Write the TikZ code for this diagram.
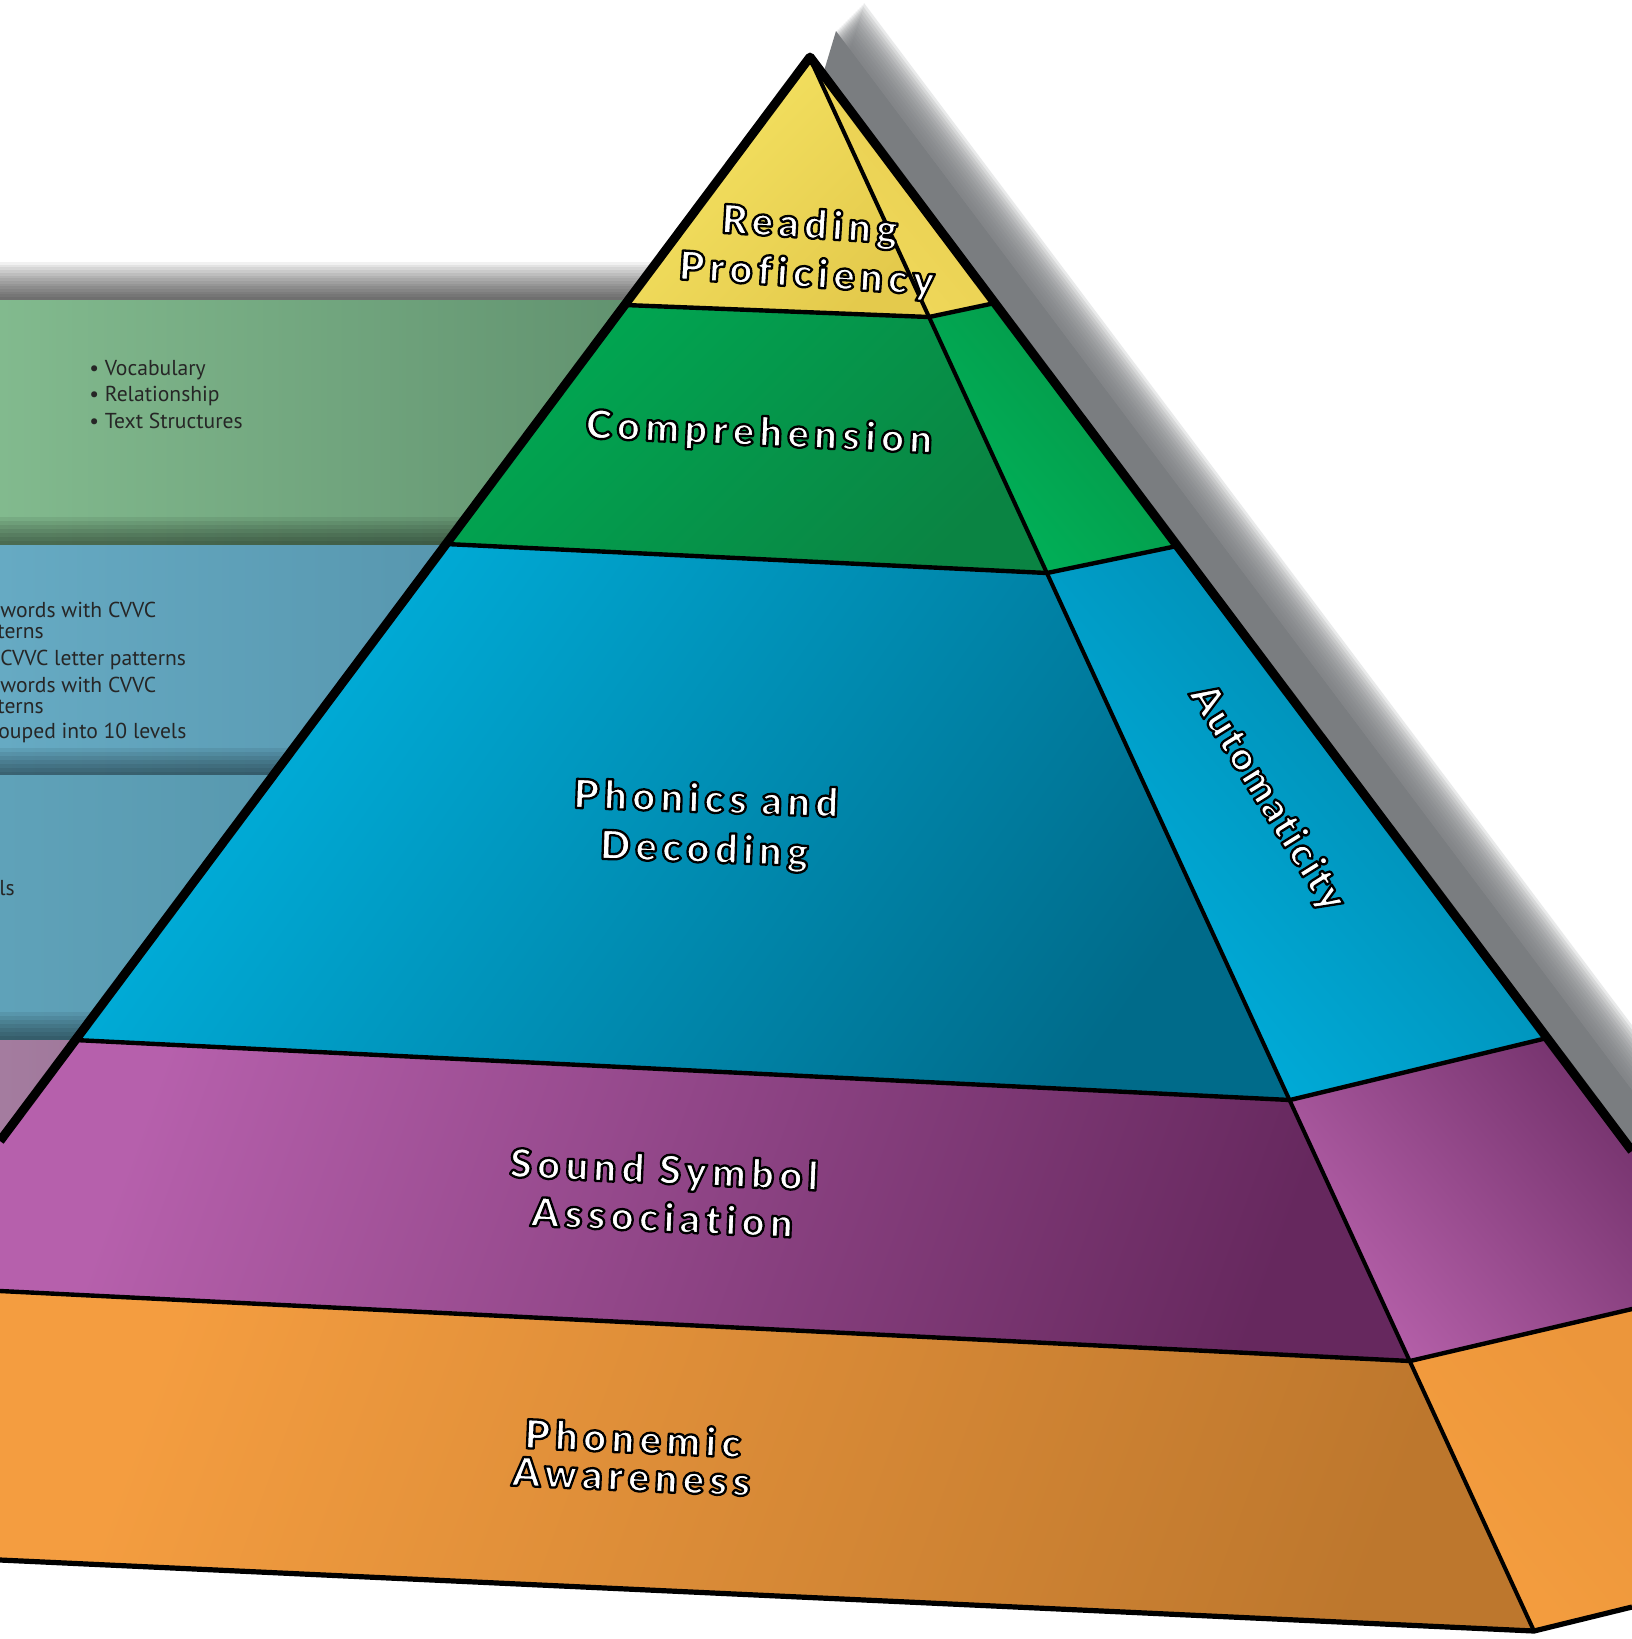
\documentclass[tikz,border=0pt]{standalone}
\usepackage{fontspec}
\IfFontExistsTF{Lato Black}{%
  \newfontfamily\labfontbase{Lato Black}[LetterSpace=13, Ligatures=NoCommon]
  \newfontfamily\autolabfontbase{Lato Black}[LetterSpace=5, Ligatures=NoCommon]
  \newcommand\labfont{\labfontbase}
  \newcommand\autolabfont{\autolabfontbase}
}{%
  \newfontfamily\labfontbase{Open Sans}[LetterSpace=9]
  \newfontfamily\autolabfontbase{Open Sans}
  \newcommand\labfont{\labfontbase\bfseries}
  \newcommand\autolabfont{\autolabfontbase\bfseries}
}
\newfontfamily\bodyfont{PT Sans}
\definecolor{pgreenL}{HTML}{82BA8E}
\definecolor{pgreenR}{HTML}{5E8E6C}
\definecolor{pblueAL}{HTML}{66AAC3}
\definecolor{pblueAR}{HTML}{4F8CA3}
\definecolor{pblueBL}{HTML}{5FA2B9}
\definecolor{pblueBR}{HTML}{4D8A9F}
\definecolor{pmauveL}{HTML}{A47C9F}
\definecolor{pmauveR}{HTML}{8F6B8C}
\definecolor{shadowgray}{HTML}{7A7D80}
\definecolor{textdark}{HTML}{262626}
\definecolor{yelFa}{HTML}{F6E463}
\definecolor{yelFb}{HTML}{E4CA4C}
\definecolor{yelRa}{HTML}{F1DA5C}
\definecolor{yelRb}{HTML}{E6CC4E}
\definecolor{grnFa}{HTML}{00A852}
\definecolor{grnFb}{HTML}{0A8443}
\definecolor{grnRa}{HTML}{00B35A}
\definecolor{grnRb}{HTML}{059546}
\definecolor{bluFa}{HTML}{00B2DF}
\definecolor{bluFb}{HTML}{006B8A}
\definecolor{bluRa}{HTML}{00B0DE}
\definecolor{bluRb}{HTML}{0085AA}
\definecolor{purFa}{HTML}{B660AC}
\definecolor{purFb}{HTML}{66285E}
\definecolor{purRa}{HTML}{B862AC}
\definecolor{purRb}{HTML}{783570}
\definecolor{orgFa}{HTML}{F49D40}
\definecolor{orgFb}{HTML}{BD772D}
\definecolor{orgRa}{HTML}{F59E3F}
\definecolor{orgRb}{HTML}{EC963B}
\newcommand{\olt}[1]{\special{pdf:literal direct 2 Tr 0 0 0 RG 1.15 w 1 j}#1\special{pdf:literal direct 0 Tr}}
\tikzset{
  lab/.style={text=white, align=center, inner sep=0pt, font=\labfont\fontsize{20}{#1}\selectfont},
  autolab/.style={text=white, inner sep=0pt, font=\autolabfont\fontsize{20}{24}\selectfont},
  body/.style={text=textdark, inner sep=0pt, anchor=base west, font=\bodyfont\fontsize{10.8}{13}\selectfont},
  bandline/.style={line width=2.2pt, line cap=round},
}
\begin{document}
\begin{tikzpicture}[x=0.5pt,y=-0.5pt,line join=round]
\useasboundingbox (0,0) rectangle (1632,1639);
\clip (0,0) rectangle (1632,1639);
\fill[white] (0,0) rectangle (1632,1639);

% shadow above the green panel
\foreach \i in {0,...,13} { \fill[black, opacity=0.055] (0,{262+2.7*\i}) rectangle (760,300); }

% side panels
\shade[left color=pgreenL, right color=pgreenR] (0,300) rectangle (700,545);
\foreach \i in {0,...,6} { \fill[black, opacity=0.07] (0,{517+4*\i}) rectangle (700,545); }
\shade[left color=pblueAL, right color=pblueAR] (0,545) rectangle (700,775);
\foreach \i in {0,...,6} { \fill[black, opacity=0.07] (0,{748+4*\i}) rectangle (700,775); }
\shade[left color=pblueBL, right color=pblueBR] (0,775) rectangle (700,1040);
\foreach \i in {0,...,6} { \fill[black, opacity=0.07] (0,{1012+4*\i}) rectangle (700,1040); }
\shade[left color=pmauveL, right color=pmauveR] (0,1040) rectangle (400,1200);

% panel texts
\node[body] (t1) at (89,375) {• Vocabulary};
\node[body] (t2) at (89,401) {• Relationship};
\node[body] (t3) at (89,428) {• Text Structures};
\node[body] (b1) at (0,617) {words with CVVC};
\node[body] (b2) at (-3,638) {terns};
\node[body] (b3) at (0,665) {CVVC letter patterns};
\node[body] (b4) at (0,692) {words with CVVC};
\node[body] (b5) at (-3,713) {terns};
\node[body] (b6) at (-2,738) {ouped into 10 levels};
\node[body] (b7) at (-1,895) {ls};

% pyramid shadow (soft)
\fill[shadowgray, shift={(26,-26)}] (810,57) -- (1632,1151) -- (1632,1300) -- (437,1300) -- cycle;
\foreach \d in {28,30,...,54} {
  \fill[shadowgray, opacity=0.16, shift={(\d,-\d)}] (810,57) -- (1632,1151) -- (1632,1300) -- (437,1300) -- cycle;
}

% faces
\shade[top color=yelFa, bottom color=yelFb, shading angle=45] (810,57) -- (625,305) -- (929,317) -- (813,65) -- cycle;
\shade[top color=yelRb, bottom color=yelRa, shading angle=-50] (810,57) -- (813,65) -- (929,317) -- (995,303) -- cycle;
\shade[top color=grnFa, bottom color=grnFb, shading angle=45] (625,305) -- (446,544) -- (1047,573) -- (929,317) -- cycle;
\shade[top color=grnRb, bottom color=grnRa, shading angle=-50] (929,317) -- (1047,573) -- (1177,546) -- (995,303) -- cycle;
\shade[top color=bluFa, bottom color=bluFb, shading angle=55] (446,544) -- (75,1040) -- (1290,1100) -- (1047,573) -- cycle;
\shade[top color=bluRb, bottom color=bluRa, shading angle=-50] (1047,573) -- (1290,1100) -- (1547,1038) -- (1177,546) -- cycle;
\shade[top color=purFa, bottom color=purFb, shading angle=70] (75,1040) -- (0,1141) -- (0,1291) -- (1410,1361) -- (1290,1100) -- cycle;
\shade[top color=purRb, bottom color=purRa, shading angle=-50] (1290,1100) -- (1547,1038) -- (1632,1151) -- (1632,1309) -- (1410,1361) -- cycle;
\shade[top color=orgFa, bottom color=orgFb, shading angle=70] (0,1291) -- (0,1560) -- (1534,1631) -- (1410,1361) -- cycle;
\shade[top color=orgRb, bottom color=orgRa, shading angle=-50] (1410,1361) -- (1632,1309) -- (1632,1607) -- (1534,1631) -- cycle;

% lines
\draw[bandline] (625,305) -- (929,317) -- (995,303);
\draw[bandline] (446,544) -- (1047,573) -- (1177,546);
\draw[bandline] (75,1040) -- (1290,1100) -- (1547,1038);
\draw[bandline] (0,1291) -- (1410,1361) -- (1632,1309);
\draw[line width=2pt] (813,65) -- (1534,1631);
\draw[line width=2.6pt] (0,1560) -- (1534,1631) -- (1632,1607);
\draw[line width=4.5pt] (0,1141) -- (810,57) -- (1632,1151);

% labels
\node[lab=24.5, rotate=-3.5] (reading) at (808,251) {\olt{Reading\\Proficiency}};
\node[lab=24, rotate=-2.5] (compr) at (759,434) {\olt{Comprehension}};
\node[lab=25, rotate=-2] (phonics) at (705,826) {\olt{Phonics and\\Decoding}};
\node[lab=24, rotate=-2.5] (sound) at (663,1193) {\olt{Sound Symbol\\Association}};
\node[lab=19, rotate=-2.5] (phonemic) at (632,1457) {\olt{Phonemic\\Awareness}};
\node[autolab, rotate=-58] (autom) at (1267,798) {\olt{Automaticity}};
\end{tikzpicture}
\end{document}
